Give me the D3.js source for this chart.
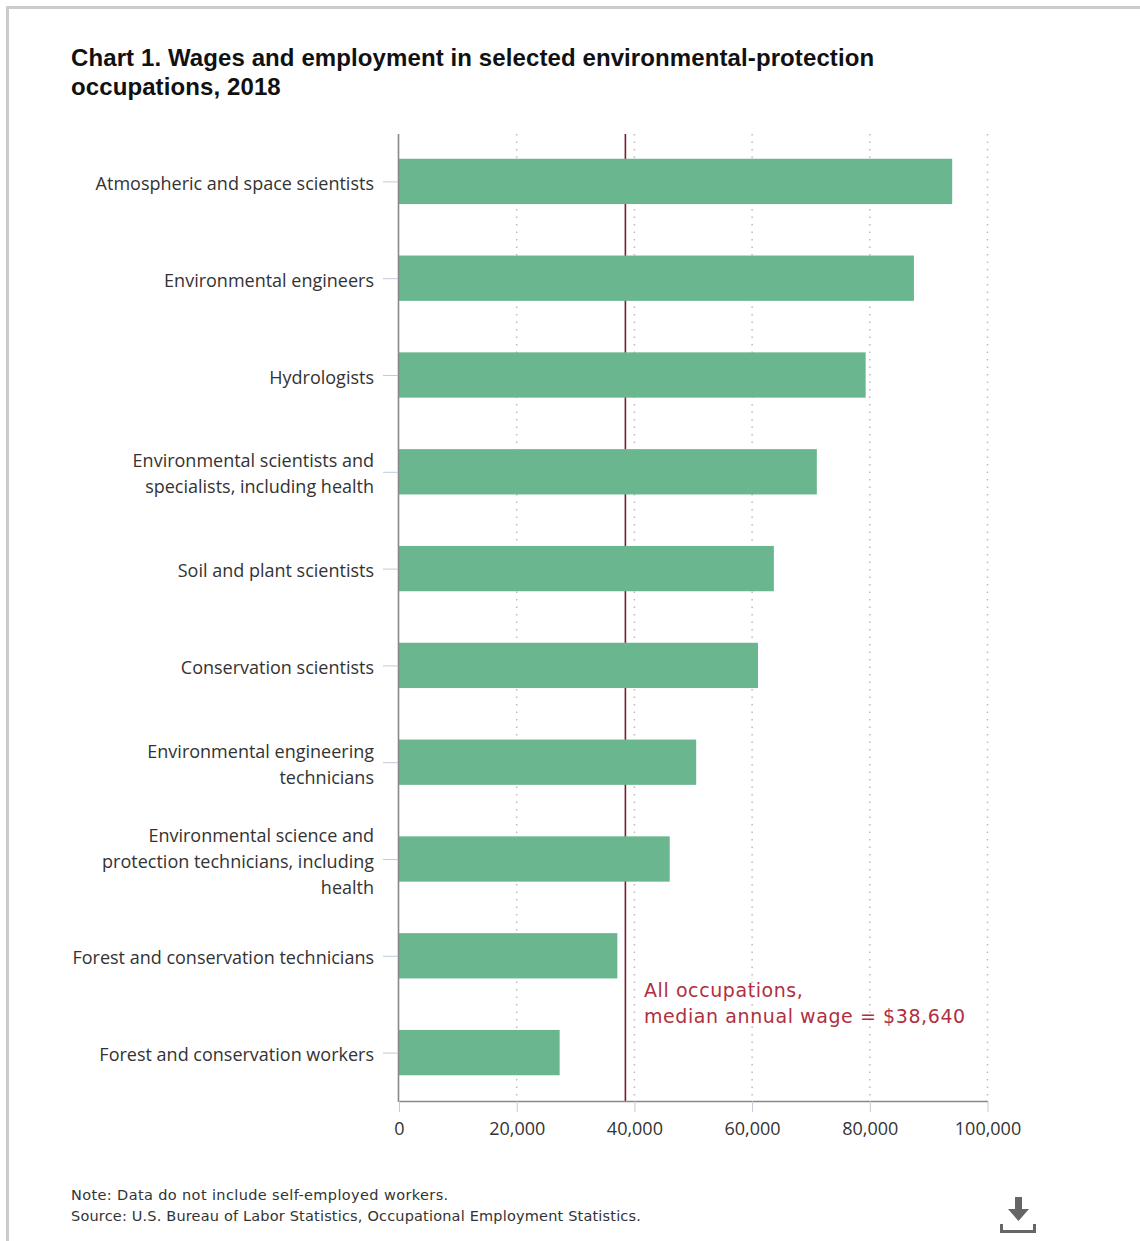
<!DOCTYPE html>
<html><head><meta charset="utf-8"><script src="https://cdn.jsdelivr.net/npm/d3@7"></script>
<style>html,body{margin:0;padding:0;background:#fff}svg{display:block}text{font-family:"Open Sans",sans-serif}</style></head>
<body><svg id="c" width="1140" height="1241"></svg>
<script>
const categories=[["Atmospheric and space scientists"],["Environmental engineers"],["Hydrologists"],["Environmental scientists and","specialists, including health"],["Soil and plant scientists"],["Conservation scientists"],["Environmental engineering","technicians"],["Environmental science and","protection technicians, including","health"],["Forest and conservation technicians"],["Forest and conservation workers"]];
const wages=[94000,87500,79300,71000,63700,61000,50500,46000,37100,27300];
const tickValues=[0,20000,40000,60000,80000,100000];
const medianWage=38640;
const svg=d3.select("#c");
svg.append("path").attr("d","M7.5 1241V7.5H1140").attr("fill","none").attr("stroke","#ccc").attr("stroke-width",3);
const x=d3.scaleLinear().domain([0,100000]).range([399,987.5]);
const y=d3.scaleBand().domain(d3.range(10)).range([133,1101]).paddingInner(0.532).paddingOuter(0.266);
const title=svg.append("text").attr("font-size",24).attr("font-weight",700).attr("fill","#111").style("font-family",'"Liberation Sans",sans-serif').style("letter-spacing","0.1px");
["Chart 1. Wages and employment in selected environmental-protection","occupations, 2018"].forEach((t,i)=>title.append("tspan").attr("x",71).attr("y",66+i*29).text(t));
svg.append("g").selectAll("line").data(tickValues.slice(1)).join("line").attr("x1",d=>x(d)).attr("x2",d=>x(d)).attr("y1",134).attr("y2",1101).attr("stroke","#bbb").attr("stroke-width",1.5).attr("stroke-dasharray","1.5 6");
svg.append("line").attr("x1",x(medianWage)-1).attr("x2",x(medianWage)-1).attr("y1",134).attr("y2",1101).attr("stroke","#7b1c2e").attr("stroke-width",1.6);
svg.append("g").selectAll("rect").data(wages).join("rect").attr("x",x(0)).attr("y",(d,i)=>y(i)).attr("width",d=>x(d)-x(0)).attr("height",y.bandwidth()).attr("fill","#6ab78f");
const ax=svg.append("g").attr("transform","translate(0,1101)").call(d3.axisBottom(x).tickValues(tickValues).tickSize(11).tickPadding(10).tickSizeOuter(0).tickFormat(d3.format(",")));
ax.selectAll("text").attr("font-size",18).attr("fill","#333").style("font-family",'"Open Sans",sans-serif');
ax.selectAll("line").attr("stroke","#c0ccd8");
ax.selectAll("path").attr("stroke","#888").attr("stroke-width",1.5);
svg.append("line").attr("x1",398.5).attr("x2",398.5).attr("y1",134).attr("y2",1102).attr("stroke","#888").attr("stroke-width",1.6);
const lab=svg.append("g");
categories.forEach((ls,i)=>{const c=y(i)+y.bandwidth()/2;
 lab.append("line").attr("x1",383).attr("x2",398).attr("y1",c+.5).attr("y2",c+.5).attr("stroke","#c0ccd8");
 ls.forEach((t,j)=>lab.append("text").attr("x",374).attr("y",c+(j-(ls.length-1)/2)*26+8.5).attr("text-anchor","end").attr("font-size",18).attr("fill","#333").text(t));});
const note=svg.append("text").attr("font-size",19).attr("fill","#b03040").style("font-family",'"DejaVu Sans",sans-serif').style("letter-spacing","0.58px");
["All occupations,","median annual wage = $38,640"].forEach((t,i)=>note.append("tspan").attr("x",644).attr("y",997+i*26).text(t));
const footLines=["Note: Data do not include self-employed workers.","Source: U.S. Bureau of Labor Statistics, Occupational Employment Statistics."];
const footSpacing=[0.38,0.18];
footLines.forEach((t,i)=>svg.append("text").attr("x",71).attr("y",1200+i*21).attr("font-size",14.5).attr("fill","#333").style("font-family",'"DejaVu Sans",sans-serif').style("letter-spacing",footSpacing[i]+"px").text(t));
const ic=svg.append("g").attr("fill","#666");
ic.append("path").attr("d","M1015 1197h7v12h7l-10.5 12-10.5-12h7z");
ic.append("path").attr("d","M1000 1224h3v6h30v-6h3v9h-36z");
</script></body></html>
